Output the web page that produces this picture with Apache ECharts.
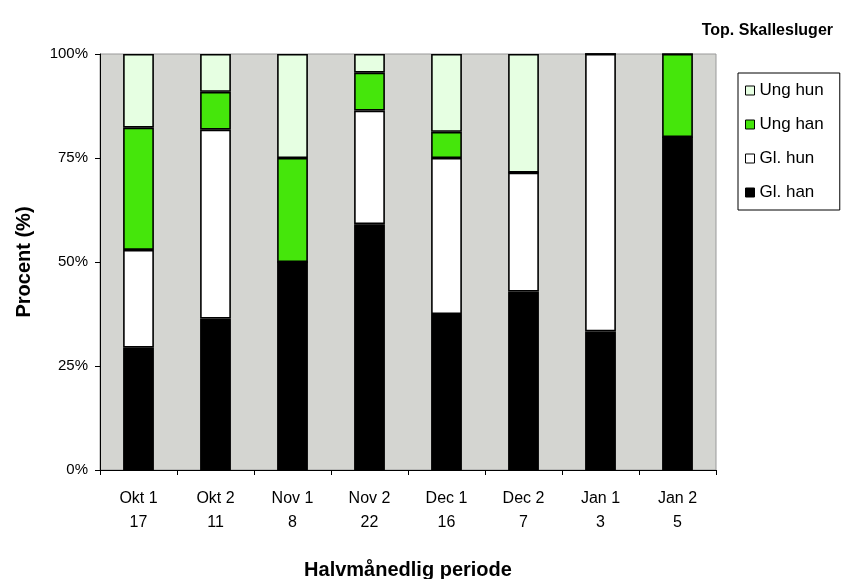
<!DOCTYPE html>
<html>
<head>
<meta charset="utf-8">
<script src="https://cdn.jsdelivr.net/npm/echarts@6/dist/echarts.min.js"></script>
<style>
  html, body { margin: 0; padding: 0; background: #fff; }
  #chart { width: 842px; height: 579px; }
</style>
</head>
<body>
<div id="chart"></div>
<script>
const periods = ['Okt 1', 'Okt 2', 'Nov 1', 'Nov 2', 'Dec 1', 'Dec 2', 'Jan 1', 'Jan 2']
const counts = [17, 11, 8, 22, 16, 7, 3, 5]

// share of birds per period, in percent
const glHan = [29.4, 36.4, 50.0, 59.1, 37.5, 42.9, 33.3, 80.0]
const glHun = [23.5, 45.4, 0, 27.3, 37.5, 28.6, 66.7, 0]
const ungHan = [29.4, 9.1, 25.0, 9.1, 6.3, 0, 0, 20.0]
const ungHun = [17.7, 9.1, 25.0, 4.5, 18.7, 28.5, 0, 0]

const yTicks = ['0%', '25%', '50%', '75%', '100%']

const font = 'Liberation Sans, Arial, sans-serif'

const chart = echarts.init(document.getElementById('chart'))

const makeSeries = (name, data, color) => ({
  name: name,
  type: 'bar',
  stack: 'total',
  barWidth: '40%',
  data: data,
  itemStyle: {
    color: color,
    borderColor: '#000',
    borderWidth: 1.6,
  },
  emphasis: { disabled: true },
})

const option = {
  animation: false,
  textStyle: { fontFamily: font },
  title: {
    text: 'Top. Skallesluger',
    right: 4,
    top: 18,
    textStyle: {
      fontFamily: font,
      fontSize: 16,
      fontWeight: 'bold',
      color: '#000',
    },
  },
  grid: {
    left: 100,
    right: 126,
    top: 54,
    bottom: 109,
    containLabel: false,
    outerBoundsMode: 'none',
    show: true,
    backgroundColor: '#D4D5D1',
    borderColor: '#999',
    borderWidth: 1,
  },
  legend: {
    orient: 'vertical',
    left: 738,
    top: 73,
    data: ['Ung hun', 'Ung han', 'Gl. hun', 'Gl. han'],
    icon: 'rect',
    itemWidth: 9,
    itemHeight: 9,
    itemGap: 17,
    padding: [9, 16, 9, 7],
    borderColor: '#000',
    borderWidth: 1,
    itemStyle: { borderColor: '#000', borderWidth: 1 },
    textStyle: { fontFamily: font, fontSize: 17, color: '#000' },
  },
  xAxis: {
    type: 'category',
    data: periods,
    name: 'Halvmånedlig periode',
    nameLocation: 'middle',
    nameGap: 90,
    nameTextStyle: { fontFamily: font, fontSize: 20, fontWeight: 'bold', color: '#000' },
    axisLine: { lineStyle: { color: '#000', width: 1 } },
    axisTick: { show: true, length: 5, lineStyle: { color: '#000' } },
    axisLabel: {
      color: '#000',
      fontSize: 16,
      lineHeight: 24,
      margin: 17,
      formatter: (value, i) => value + '\n' + counts[i],
    },
  },
  yAxis: {
    type: 'value',
    min: 0,
    max: 100,
    interval: 25,
    name: 'Procent (%)',
    nameLocation: 'middle',
    nameGap: 66,
    nameRotate: 90,
    nameTextStyle: { fontFamily: font, fontSize: 20, fontWeight: 'bold', color: '#000' },
    axisLine: { show: true, lineStyle: { color: '#000', width: 1 } },
    axisTick: { show: true, length: 5, lineStyle: { color: '#000' } },
    splitLine: { show: false },
    axisLabel: {
      color: '#000',
      fontSize: 15,
      margin: 12,
      formatter: (value) => yTicks[value / 25],
    },
  },
  series: [
    makeSeries('Gl. han', glHan, '#000000'),
    makeSeries('Gl. hun', glHun, '#FFFFFF'),
    makeSeries('Ung han', ungHan, '#45E60B'),
    makeSeries('Ung hun', ungHun, '#E6FFE2'),
  ],
}

chart.setOption(option)
</script>
</body>
</html>
